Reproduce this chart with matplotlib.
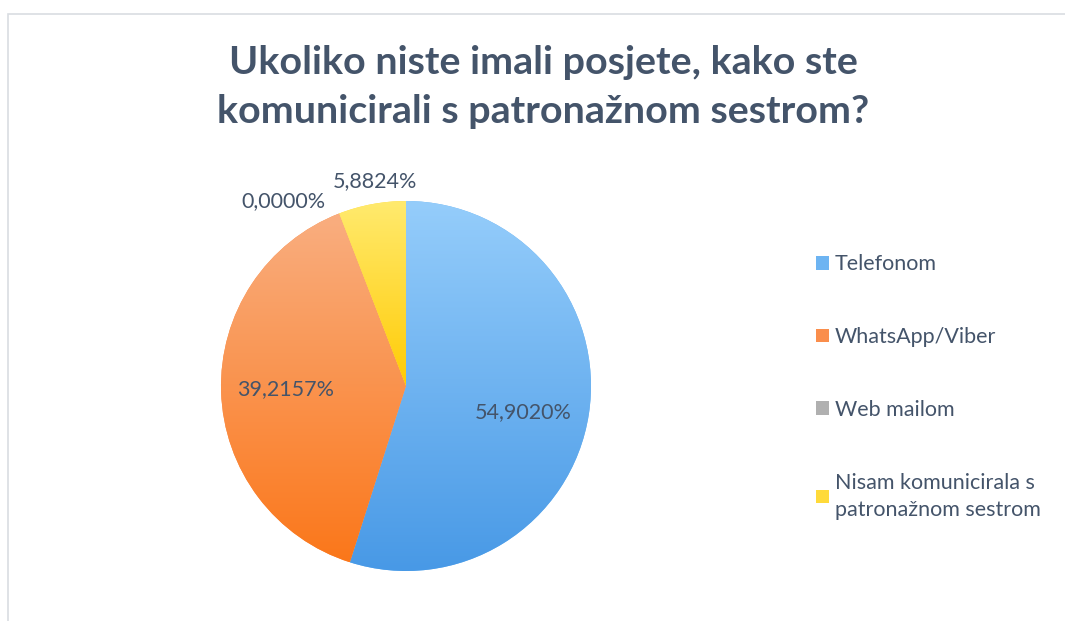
"""
Pie chart: how respondents communicated with the community nurse.
"""

import matplotlib

matplotlib.use("Agg")
import matplotlib.pyplot as plt
import numpy as np
from matplotlib.colors import to_rgb
from matplotlib.patches import Patch, Rectangle

# Data
labels = ["Telefonom", "WhatsApp/Viber", "Web mailom",
          "Nisam komunicirala s\npatronažnom sestrom"]
values = [54.9020, 39.2157, 0.0, 5.8824]
pct_labels = ["54,9020%", "39,2157%", "0,0000%", "5,8824%"]

# gradient (top, bottom) per slice
grad_top = ["#95CDFB", "#F9AE80", "#D0D0D0", "#FFEA6E"]
grad_bottom = ["#4899E6", "#FB771A", "#8E8E8E", "#FFCB05"]
legend_colors = ["#6DB4F2", "#FA8E4C", "#B0B0B0", "#FFDA3A"]

# label placement (radius, angle offset in degrees from slice middle)
label_pos = [(0.65, -3.6), (0.65, -0.4), (1.2, 12.4), (1.12, -2)]

text_color = "#44546A"
plt.rcParams["font.family"] = ["Lato", "DejaVu Sans"]

W, H = 1065, 621
fig = plt.figure(figsize=(W / 100, H / 100), dpi=100)

# chart frame (runs off the right and bottom edge)
fig.add_artist(Rectangle((8 / W, -0.1), 2, (H - 14) / H + 0.1,
                         transform=fig.transFigure, fill=False,
                         edgecolor="#D9DDE2", lw=1.2))

fig.text(543 / W, 1 - 87 / H, "Ukoliko niste imali posjete, kako ste\nkomunicirali s patronažnom sestrom?",
         ha="center", va="center", fontsize=28.4, fontweight="bold",
         color=text_color, linespacing=1.5)

# pie axes: center (406, 386), radius 185 px
cx, cy, r = 406, 386, 185
ax = fig.add_axes([(cx - r) / W, (H - cy - r) / H, 2 * r / W, 2 * r / H])
wedges, _ = ax.pie(values, startangle=90, counterclock=False, radius=1,
                   colors=legend_colors, wedgeprops=dict(linewidth=0))

# vertical gradient fill per wedge
for w, top, bot, v in zip(wedges, grad_top, grad_bottom, values):
    if v == 0:
        continue
    ext = w.get_path().get_extents()
    t = np.linspace(0, 1, 256)[:, None, None]
    img = (1 - t) * np.array(to_rgb(top)) + t * np.array(to_rgb(bot))
    im = ax.imshow(img, extent=[ext.x0, ext.x1, ext.y0, ext.y1],
                   origin="upper", aspect="auto", interpolation="bilinear",
                   zorder=w.get_zorder() + 0.1)
    im.set_clip_path(w)

ax.set_xlim(-1, 1)
ax.set_ylim(-1, 1)
ax.set_aspect("equal")
ax.axis("off")

# data labels
for w, txt, (rad, off) in zip(wedges, pct_labels, label_pos):
    ang = np.deg2rad((w.theta1 + w.theta2) / 2 + off)
    ax.text(rad * np.cos(ang), rad * np.sin(ang), txt, ha="center",
            va="center", fontsize=15.5, color=text_color)

handles = [Patch(facecolor=c, edgecolor="none") for c in legend_colors]
leg = fig.legend(handles, labels, loc="upper left", bbox_to_anchor=(797 / W, 1 - 235 / H),
                 frameon=False, fontsize=15.5, labelcolor=text_color,
                 handlelength=0.6, handleheight=0.6, handletextpad=0.25,
                 labelspacing=2.45)
for t in leg.get_texts():
    t.set_linespacing(1.45)

fig.savefig("out.png", dpi=100)
